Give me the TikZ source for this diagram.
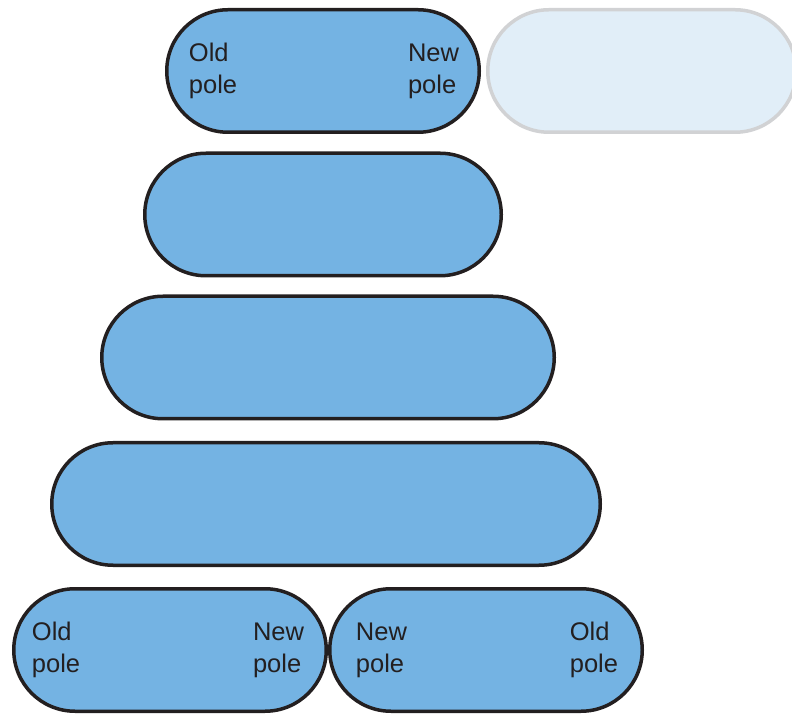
\documentclass[tikz,border=0pt]{standalone}
\usepackage{fontspec}
\setmainfont{Liberation Sans}
\usetikzlibrary{positioning}
\definecolor{cellblue}{HTML}{74B3E3}
\definecolor{cellpale}{HTML}{E1EEF8}
\definecolor{edgedark}{HTML}{231F20}
\definecolor{edgegray}{HTML}{D1D2D4}
\begin{document}
\begin{tikzpicture}[x=1pt,y=1pt,
    cell/.style={rectangle,draw=edgedark,fill=cellblue,line width=3.5pt,outer sep=0pt,
        minimum height=122.5pt,rounded corners=61.25pt},
    ghost/.style={cell,draw=edgegray,fill=cellpale},
    pole/.style={align=left,inner sep=0pt,text=edgedark,
        font=\fontsize{25.5}{32}\selectfont}]
\useasboundingbox (0,0) rectangle (792,715);

% Cellule mere et cellule fantome
\node[cell,minimum width=312.5pt] (c1) at (323,644) {};
\node[ghost,minimum width=308.5pt] (c0) at (642,644) {};
\node[pole,anchor=west] (c1old) at ([xshift=22pt]c1.west) {Old\\pole};
\node[pole,anchor=east] (c1new) at ([xshift=-20pt]c1.east) {New\\pole};

% Elongation
\node[cell,minimum width=356.5pt] (c2) at (323,500.5) {};
\node[cell,minimum width=452.5pt] (c3) at (328,357.5) {};
\node[cell,minimum width=548.5pt] (c4) at (326,211) {};

% Division
\node[cell,minimum width=312.5pt] (d1) at (170,65) {};
\node[cell,minimum width=312.5pt] (d2) at (486,65) {};
\node[pole,anchor=west] (d1old) at ([xshift=18pt]d1.west) {Old\\pole};
\node[pole,anchor=east] (d1new) at ([xshift=-22pt]d1.east) {New\\pole};
\node[pole,anchor=west] (d2new) at ([xshift=26pt]d2.west) {New\\pole};
\node[pole,anchor=east] (d2old) at ([xshift=-24pt]d2.east) {Old\\pole};

\end{tikzpicture}
\end{document}
